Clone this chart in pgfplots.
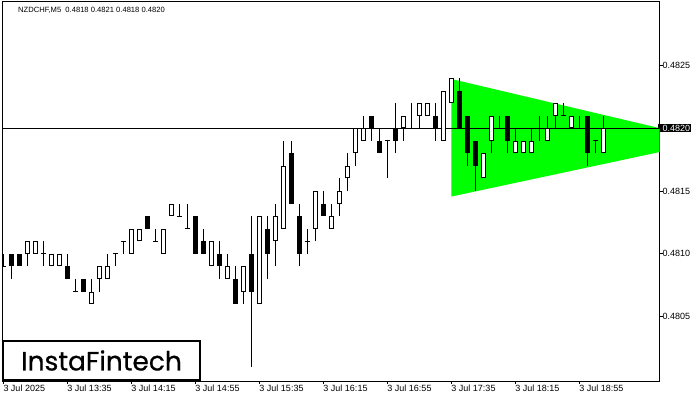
\documentclass[border=0pt]{standalone}
\usepackage{pgfplots}
\pgfplotsset{compat=1.18}
\usepackage{pgfplotstable}
\usepackage{fontspec}
\setmainfont{Liberation Sans}
\newfontfamily\logofont{Poppins}[FakeBold=0.6]
\definecolor{patgreen}{RGB}{0,255,0}
\setlength{\fboxsep}{1pt}

% NZDCHF M5 bars, index 0 = 3 Jul 12:55
\pgfplotstableread{
i O H L C
0 0.4809 0.4810 0.4809 0.4809
1 0.4810 0.4810 0.4808 0.4809
2 0.4810 0.4810 0.4809 0.4809
3 0.4810 0.4811 0.4809 0.4811
4 0.4810 0.4811 0.4810 0.4811
5 0.4810 0.4811 0.4809 0.4810
6 0.4809 0.4810 0.4809 0.4810
7 0.4809 0.4810 0.4809 0.4810
8 0.4809 0.4810 0.4808 0.4808
9 0.4807 0.4808 0.4807 0.4807
10 0.4808 0.4808 0.4807 0.4807
11 0.4806 0.4808 0.4806 0.4807
12 0.4808 0.4809 0.4807 0.4809
13 0.4808 0.4810 0.4808 0.4809
14 0.4810 0.4810 0.4809 0.4810
15 0.4811 0.4811 0.4810 0.4811
16 0.4810 0.4812 0.4810 0.4812
17 0.4811 0.4812 0.4811 0.4812
18 0.4813 0.4813 0.4812 0.4812
19 0.4811 0.4812 0.4811 0.4811
20 0.4810 0.4812 0.4810 0.4812
21 0.4813 0.4814 0.4813 0.4814
22 0.4813 0.4814 0.4813 0.4813
23 0.4812 0.4814 0.4812 0.4812
24 0.4813 0.4813 0.4810 0.4810
25 0.4811 0.4812 0.4810 0.4810
26 0.4809 0.4811 0.4809 0.4811
27 0.4810 0.4811 0.4808 0.4809
28 0.4808 0.4810 0.4808 0.4809
29 0.4808 0.4809 0.4806 0.4806
30 0.4807 0.4809 0.4806 0.4809
31 0.4810 0.4813 0.4801 0.4807
32 0.4806 0.4813 0.4806 0.4813
33 0.4812 0.4813 0.4808 0.4810
34 0.4811 0.4814 0.4809 0.4813
35 0.4812 0.4819 0.4812 0.4817
36 0.4818 0.4819 0.4814 0.4814
37 0.4813 0.4814 0.4809 0.4810
38 0.4811 0.4812 0.4810 0.4811
39 0.4812 0.4815 0.4811 0.4815
40 0.4814 0.4815 0.4813 0.4813
41 0.4812 0.4814 0.4812 0.4813
42 0.4814 0.4816 0.4813 0.4815
43 0.4816 0.4818 0.4815 0.4817
44 0.4818 0.4820 0.4817 0.4820
45 0.4819 0.4821 0.4819 0.4820
46 0.4821 0.4821 0.4819 0.4820
47 0.4819 0.4820 0.4818 0.4818
48 0.4819 0.4819 0.4816 0.4819
49 0.4820 0.4822 0.4818 0.4819
50 0.4820 0.4821 0.4819 0.4821
51 0.4820 0.4822 0.4820 0.4820
52 0.4821 0.4822 0.4820 0.4822
53 0.4821 0.4822 0.4821 0.4822
54 0.4821 0.4822 0.4819 0.4820
55 0.4819 0.4823 0.4819 0.4823
56 0.4822 0.4824 0.4822 0.4824
57 0.4823 0.4824 0.4820 0.4820
58 0.4821 0.4821 0.4817 0.4818
59 0.4819 0.4819 0.4815 0.4817
60 0.4816 0.4818 0.4816 0.4818
61 0.4819 0.4821 0.4818 0.4821
62 0.4820 0.4821 0.4820 0.4820
63 0.4821 0.4821 0.4818 0.4819
64 0.4818 0.4820 0.4818 0.4819
65 0.4818 0.4819 0.4818 0.4819
66 0.4818 0.4820 0.4818 0.4819
67 0.4820 0.4821 0.4819 0.4820
68 0.4819 0.4821 0.4819 0.4820
69 0.4821 0.4822 0.4820 0.4822
70 0.4821 0.4822 0.4821 0.4821
71 0.4820 0.4821 0.4820 0.4821
72 0.4820 0.4821 0.4820 0.4820
73 0.4821 0.4821 0.4817 0.4818
74 0.4819 0.4819 0.4818 0.4819
75 0.4818 0.4821 0.4818 0.4820
}\candles

\begin{document}
\begin{tikzpicture}
\begin{axis}[
  at={(2.7pt,19pt)}, anchor=south west,
  scale only axis, width=656.8pt, height=379.4pt,
  xmin=-0.075, xmax=82.03,
  ymin=0.479988, ymax=0.483008,
  axis line style={line width=1pt},
  tick align=outside,
  major tick length=3pt,
  tick style={black, line width=1pt},
  xtick pos=left, ytick pos=right,
  xticklabel pos=left, yticklabel pos=right,
  xtick={0,8,...,72},
  xticklabels={3 Jul 2025,3 Jul 13:35,3 Jul 14:15,3 Jul 14:55,3 Jul 15:35,3 Jul 16:15,3 Jul 16:55,3 Jul 17:35,3 Jul 18:15,3 Jul 18:55},
  ytick={0.4805,0.4810,0.4815,0.4820,0.4825},
  yticklabels={0.4805,0.4810,0.4815,{\hspace*{-5pt}\colorbox{black}{\hspace*{4pt}\color{white}0.4820}},0.4825},
  scaled y ticks=false,
  xticklabel style={anchor=north west, inner sep=0pt, yshift=-1pt, font=\fontsize{9}{10}\selectfont},
  yticklabel style={anchor=west, inner sep=0pt, font=\fontsize{9}{10}\selectfont},
]
% pattern area (symmetrical triangle)
\addplot[fill=patgreen, draw=none] coordinates {(56,0.482392) (88.7,0.481901) (56,0.481456)} -- cycle;
% current price line
\addplot[black, line width=1pt] coordinates {(-1,0.4820) (84,0.4820)};
% wicks
\addplot[black, line width=1pt, no markers, -, quiver={u=0, v=\thisrow{H}-\thisrow{L}}]
  table[x=i, y=L] {\candles};
% bearish bodies
\addplot[black, line width=5pt, no markers, -, quiver={u=0, v=\thisrow{C}-\thisrow{O}},
  x filter/.expression={\thisrow{C}<\thisrow{O} ? x : nan}]
  table[x=i, y=O] {\candles};
% bullish bodies: outline then white inside
\addplot[black, line width=5pt, no markers, -, quiver={u=0, v=\thisrow{C}-\thisrow{O}},
  x filter/.expression={\thisrow{C}>\thisrow{O} ? x : nan}]
  table[x=i, y=O] {\candles};
\addplot[white, line width=3pt, no markers, -,
  quiver={u=0, v=\thisrow{C}-\thisrow{O}, every arrow/.append style={shorten >=1pt, shorten <=1pt}},
  x filter/.expression={\thisrow{C}>\thisrow{O} ? x : nan}]
  table[x=i, y=O] {\candles};
% doji
\addplot[black, line width=1pt, no markers, -, quiver={u=0.625, v=0},
  x filter/.expression={\thisrow{C}==\thisrow{O} ? x : nan}]
  table[x expr=\thisrow{i}-0.3125, y=O] {\candles};
\end{axis}
\node[anchor=west, inner sep=0pt, font=\fontsize{7.6}{9}\selectfont] at (18pt,390pt) {NZDCHF,M5\ \ 0.4818 0.4821 0.4818 0.4820};
\node[draw=black, line width=2pt, fill=white, minimum width=197pt, minimum height=39pt, inner sep=0pt]
  at (101.5pt,39.5pt) {\logofont\fontsize{26.5}{30}\selectfont InstaFintech};
\pgfresetboundingbox
\path[use as bounding box] (0pt,0pt) rectangle (700pt,400pt);
\end{tikzpicture}
\end{document}
